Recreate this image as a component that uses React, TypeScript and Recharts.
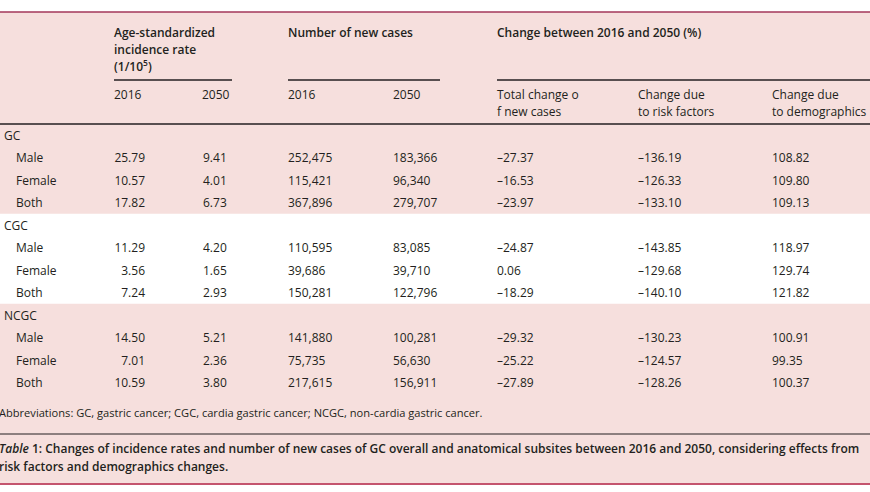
import { ScatterChart, Scatter, XAxis, YAxis, ReferenceArea, ReferenceLine } from 'recharts'

const groups = ['GC', 'CGC', 'NCGC']
const sexes = ['Male', 'Female', 'Both']

const asir2016 = [25.79, 10.57, 17.82, 11.29, 3.56, 7.24, 14.5, 7.01, 10.59]
const asir2050 = [9.41, 4.01, 6.73, 4.2, 1.65, 2.93, 5.21, 2.36, 3.8]
const cases2016 = [252475, 115421, 367896, 110595, 39686, 150281, 141880, 75735, 217615]
const cases2050 = [183366, 96340, 279707, 83085, 39710, 122796, 100281, 56630, 156911]
const totalChange = [-27.37, -16.53, -23.97, -24.87, 0.06, -18.29, -29.32, -25.22, -27.89]
const riskChange = [-136.19, -126.33, -133.1, -143.85, -129.68, -140.1, -130.23, -124.57, -128.26]
const demoChange = [108.82, 109.8, 109.13, 118.97, 129.74, 121.82, 100.91, 99.35, 100.37]

const groupHeaders = [['Age-standardized', 'incidence rate', '(1/10^5)'], ['Number of new cases'], ['Change between 2016 and 2050 (%)']]
const subHeaders = [['2016'], ['2050'], ['2016'], ['2050'], ['Total change o', 'f new cases'], ['Change due', 'to risk factors'], ['Change due', 'to demographics']]
const footnote = 'Abbreviations: GC, gastric cancer; CGC, cardia gastric cancer; NCGC, non-cardia gastric cancer.'
const captionLabel = 'Table 1:'
const captionLines = [
  'Changes of incidence rates and number of new cases of GC overall and anatomical subsites between 2016 and 2050, considering effects from',
  'risk factors and demographics changes.',
]

const W = 870
const H = 492
const INK = '#231f20'
const PINK = '#f6dfdd'
const ROW0 = 135
const PITCH = 22.5

const fmtDec = (v: number) => v.toFixed(2).replace('-', '\u2013')
const fmtInt = (v: number) => v.toLocaleString('en-US')

// layout of the value columns: anchor x and text alignment
const columns = [
  { values: asir2016.map(fmtDec), x: 145, anchor: 'end' },
  { values: asir2050.map(fmtDec), x: 203, anchor: 'start' },
  { values: cases2016.map(fmtInt), x: 288, anchor: 'start' },
  { values: cases2050.map(fmtInt), x: 393, anchor: 'start' },
  { values: totalChange.map(fmtDec), x: 497, anchor: 'start' },
  { values: riskChange.map(fmtDec), x: 638, anchor: 'start' },
  { values: demoChange.map(fmtDec), x: 772, anchor: 'start' },
]
const groupHeaderX = [114, 288, 497]
const groupRuleX = [[114, 232], [288, 440], [497, 870]]
const subHeaderX = [114, 202, 288, 393, 497, 638, 772]

const rowY = (i: number) => ROW0 + i * PITCH
const sexRow = (k: number) => Math.floor(k / 3) * 4 + (k % 3) + 1

const makeText = (anchor: string, size = 12, weight: any = 400, dx = 0) => (props: any) => {
  const { cx, cy, payload } = props
  const label: string = payload.label
  const sup = label.split('^')
  return (
    <text x={cx + dx} y={cy} textAnchor={anchor} dominantBaseline="central" fontSize={size} fontWeight={weight} fill={INK}>
      {sup.length > 1 ? (
        <>
          {sup[0]}
          <tspan fontSize={size * 0.7} dy={-4}>{sup[1].slice(0, 1)}</tspan>
          <tspan dy={4}>{sup[1].slice(1)}</tspan>
        </>
      ) : label}
    </text>
  )
}

const captionShape = (props: any) => {
  const { cx, cy, payload } = props
  return (
    <text x={cx - 1} y={cy} dominantBaseline="central" fontSize={12} fontWeight={600} fill={INK}>
      {payload.first ? (
        <>
          <tspan fontStyle="italic">{captionLabel.split(' ')[0]}</tspan>
          {' ' + captionLabel.split(' ')[1] + ' '}
        </>
      ) : null}
      {payload.label}
    </text>
  )
}

export default function App() {
  const groupLabelData = groups.map((g, gi) => ({ x: 4, y: rowY(gi * 4), label: g }))
  const sexLabelData = asir2016.map((_, k) => ({ x: 16, y: rowY(sexRow(k)), label: sexes[k % 3] }))
  const groupHeaderData = groupHeaders.flatMap((lines, gi) =>
    lines.map((l, li) => ({ x: groupHeaderX[gi], y: 32 + li * 17, label: l })),
  )
  const subHeaderData = subHeaders.flatMap((lines, si) =>
    lines.map((l, li) => ({ x: subHeaderX[si], y: 94 + li * 17, label: l })),
  )
  const captionData = captionLines.map((l, i) => ({ x: 0, y: 448 + i * 18, label: l, first: i === 0 }))

  return (
    <div style={{ position: 'absolute', left: 0, top: 0, width: W, height: H, background: '#fff', fontFamily: "'Open Sans', sans-serif" }}>
      <ScatterChart width={W} height={H} margin={{ top: 0, right: 0, bottom: 0, left: 0 }}>
        <XAxis type="number" dataKey="x" domain={[0, W]} allowDataOverflow hide />
        <YAxis type="number" dataKey="y" domain={[0, H]} allowDataOverflow reversed hide />
        <ReferenceArea x1={0} x2={W} y1={12} y2={rowY(3) + PITCH / 2} fill={PINK} fillOpacity={1} stroke="none" />
        <ReferenceArea x1={0} x2={W} y1={rowY(7) + PITCH / 2} y2={484} fill={PINK} fillOpacity={1} stroke="none" />
        <ReferenceLine segment={[{ x: 0, y: 12 }, { x: W, y: 12 }]} stroke="#a3375a" strokeWidth={1.5} />
        {groupRuleX.map(([a, b], i) => (
          <ReferenceLine key={i} segment={[{ x: a, y: 80 }, { x: b, y: 80 }]} stroke={INK} strokeWidth={1.4} />
        ))}
        <ReferenceLine segment={[{ x: 0, y: 124 }, { x: W, y: 124 }]} stroke={INK} strokeWidth={1.4} />
        <ReferenceLine segment={[{ x: 0, y: 434 }, { x: W, y: 434 }]} stroke={INK} strokeWidth={1} />
        <ReferenceLine segment={[{ x: 0, y: 484 }, { x: W, y: 484 }]} stroke="#c4546e" strokeWidth={2} />

        <Scatter data={groupHeaderData} shape={makeText('start', 12, 600)} isAnimationActive={false} />
        <Scatter data={subHeaderData} shape={makeText('start')} isAnimationActive={false} />
        <Scatter data={groupLabelData} shape={makeText('start')} isAnimationActive={false} />
        <Scatter data={sexLabelData} shape={makeText('start')} isAnimationActive={false} />
        {columns.map((c, ci) => (
          <Scatter
            key={ci}
            data={c.values.map((v, k) => ({ x: c.x, y: rowY(sexRow(k)), label: v }))}
            shape={makeText(c.anchor)}
            isAnimationActive={false}
          />
        ))}
        <Scatter data={[{ x: 0, y: 412, label: footnote }]} shape={makeText('start', 11.1, 400, -1)} isAnimationActive={false} />
        <Scatter data={captionData} shape={captionShape} isAnimationActive={false} />
      </ScatterChart>
    </div>
  )
}
